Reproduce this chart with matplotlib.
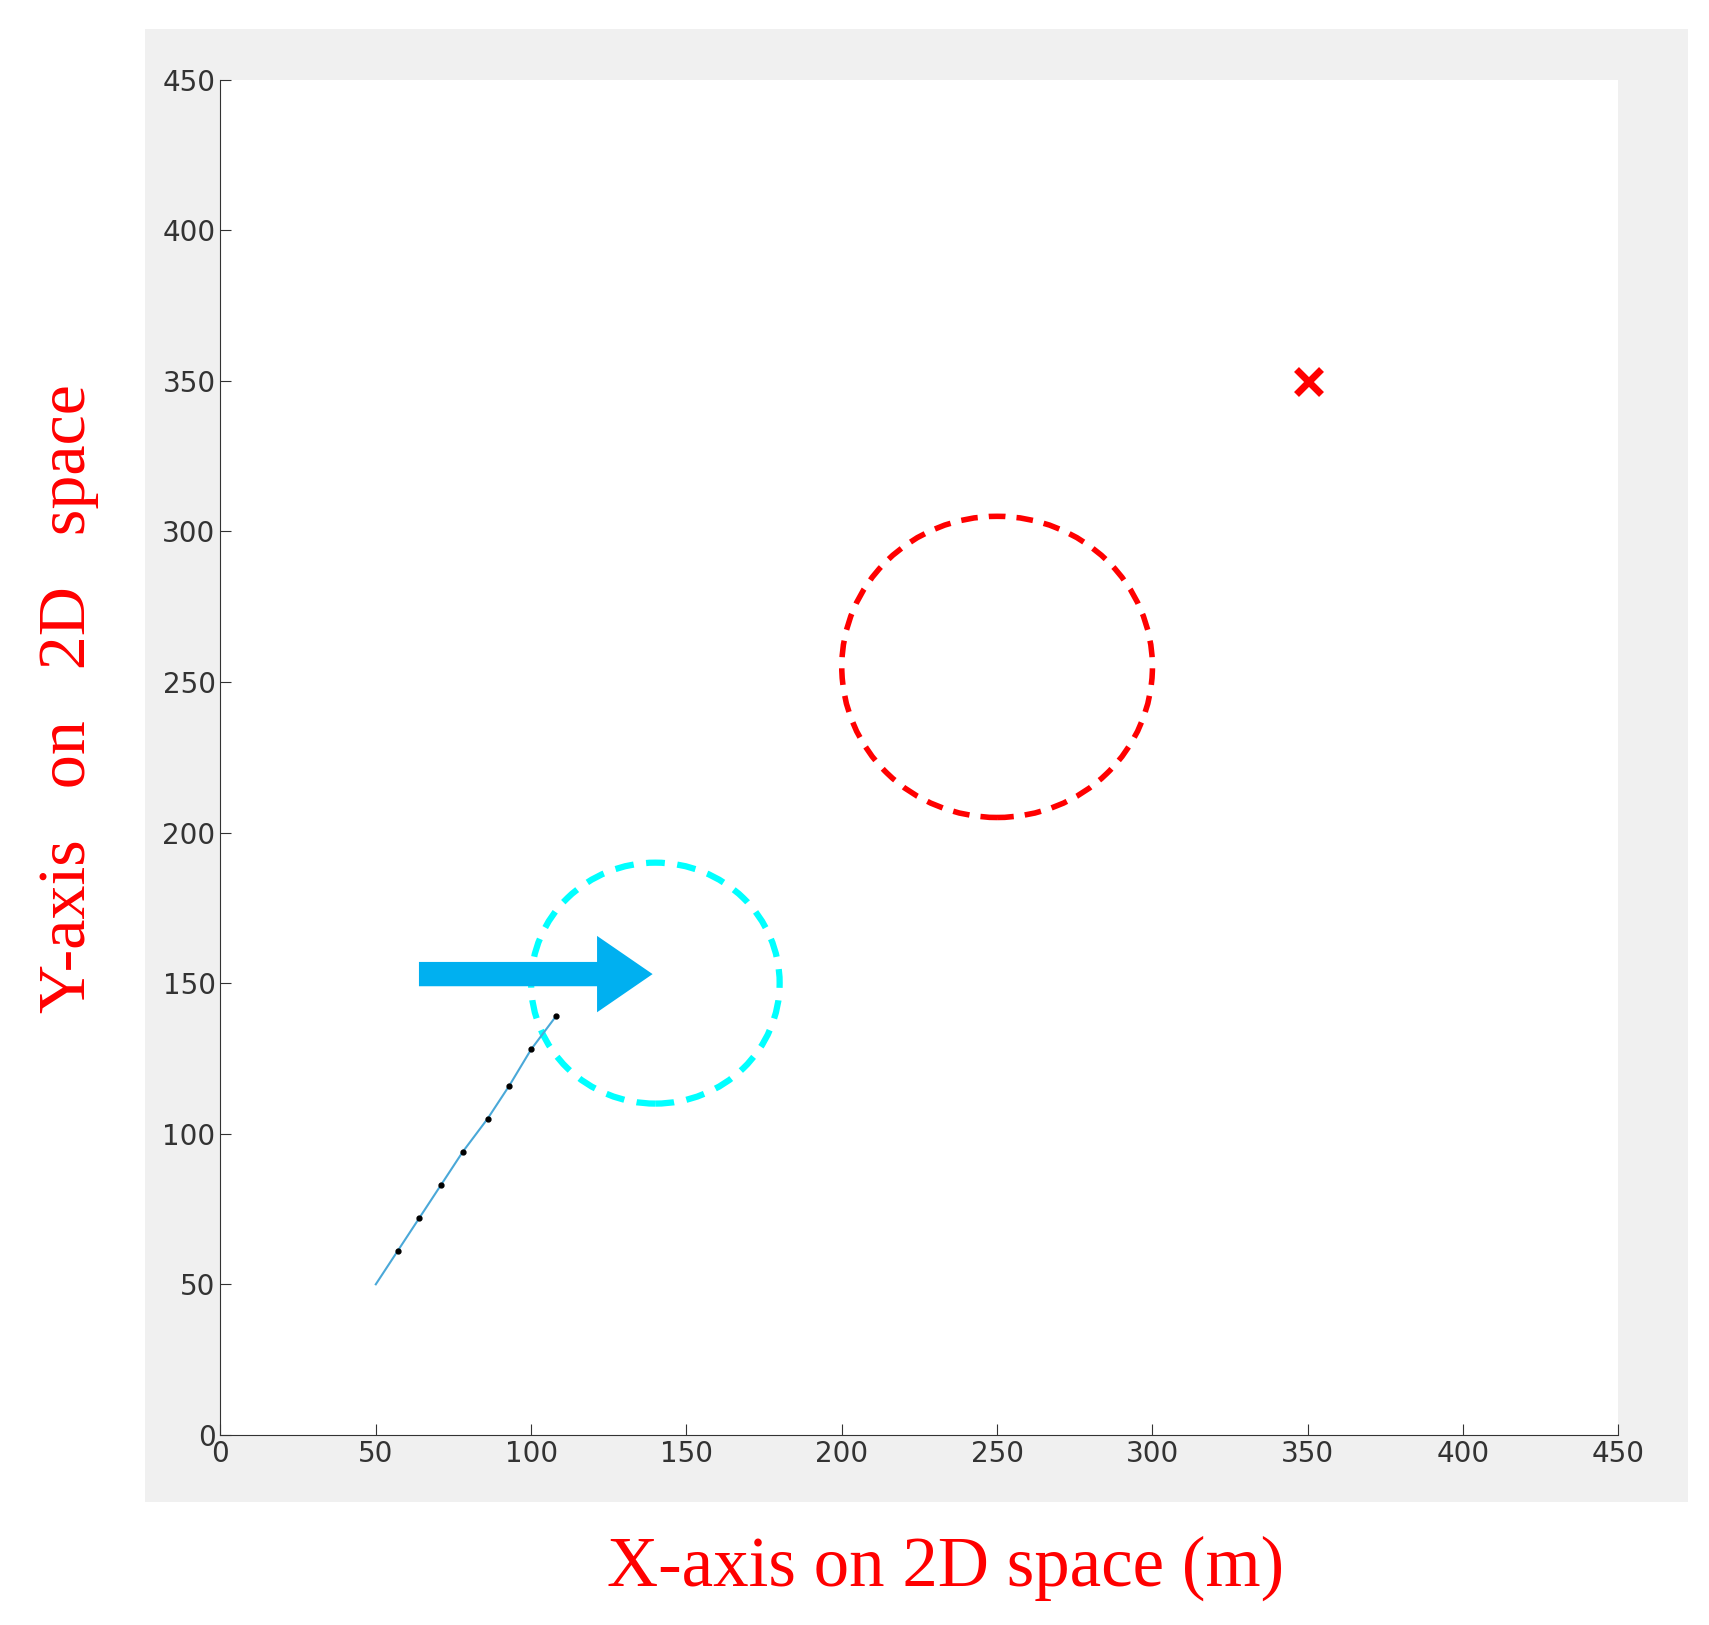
import matplotlib.pyplot as plt
import matplotlib.patches as mpatches

# trajectory points
path_x = [50, 57, 64, 71, 78, 86, 93, 100, 108]
path_y = [50, 61, 72, 83, 94, 105, 116, 128, 139]

# circles: (center x, center y, radius)
cyan_circle = (140, 150, 40)
red_circle = (250, 255, 50)
goal = (350, 350)
arrow_start = (63, 153)
arrow_end = (140, 153)

ticks = [0, 50, 100, 150, 200, 250, 300, 350, 400, 450]

fig = plt.figure(figsize=(17.09, 16.25), dpi=100)
# grey panel behind the axes
bg = fig.add_axes([0.085, 0.076, 0.903, 0.906], zorder=-1)
bg.set_facecolor("#f0f0f0")
bg.set_xticks([])
bg.set_yticks([])
for s in bg.spines.values():
    s.set_visible(False)

ax = fig.add_axes([0.129, 0.117, 0.818, 0.834])
ax.set_xlim(0, 450)
ax.set_ylim(0, 450)

ax.plot(path_x, path_y, color="#4aa8d8", lw=1.5)
ax.plot(path_x[1:], path_y[1:], "o", color="black", ms=3.5)

cx, cy, r = cyan_circle
ax.add_patch(mpatches.Circle((cx, cy), r, fill=False, ec="cyan", lw=4.5, ls=(0, (3, 2))))
cx, cy, r = red_circle
ax.add_patch(mpatches.Circle((cx, cy), r, fill=False, ec="red", lw=4, ls=(0, (3, 2))))
ax.plot(goal[0], goal[1], "x", color="red", ms=18, mew=5)

ax.annotate("", xy=arrow_end, xytext=arrow_start,
            arrowprops=dict(arrowstyle="simple,head_width=2.2,head_length=1.6,tail_width=0.7",
                            color="#00b0f0", lw=0, mutation_scale=25))

ax.set_xticks(ticks)
ax.set_yticks(ticks)
ax.tick_params(labelsize=20, labelcolor="#333333", color="#333333", direction="in", length=8)
for s in ["top", "right"]:
    ax.spines[s].set_visible(False)
for s in ["left", "bottom"]:
    ax.spines[s].set_color("#333333")

fig.text(0.553, 0.035, "X-axis on 2D space (m)", color="red", fontsize=51,
         family="Liberation Serif", ha="center", va="center")
fig.text(0.04, 0.57, "Y-axis   on   2D   space", color="red", fontsize=49,
         family="Liberation Serif", ha="center", va="center", rotation=90)

fig.savefig("out.png")
